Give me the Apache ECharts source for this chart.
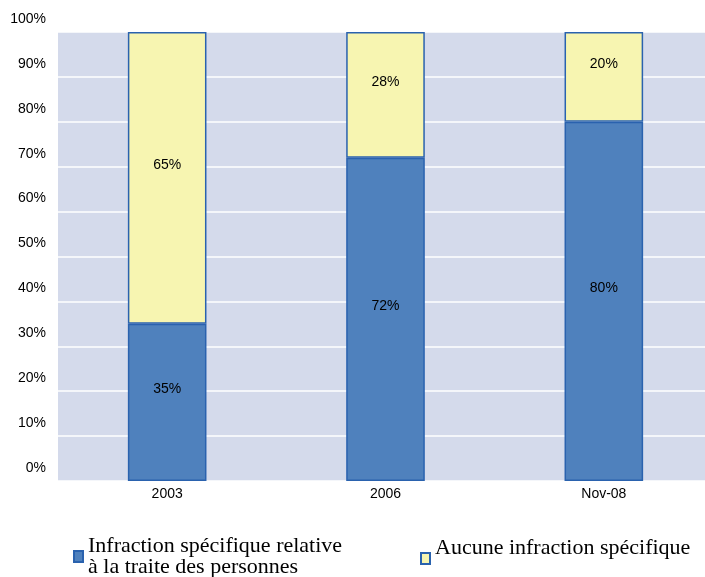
<!DOCTYPE html>
<html><head><meta charset="utf-8">
<script src="https://cdn.jsdelivr.net/npm/echarts@6/dist/echarts.min.js"></script>
<style>html,body{margin:0;padding:0;background:#fff}#c{width:705px;height:577px}</style>
</head><body><div id="c"></div>
<script>
const categories = ['2003', '2006', 'Nov-08'];
const specific = [35, 72, 80];
const none = [65, 28, 20];
const seriesNames = ['Infraction spécifique relative\nà la traite des personnes', 'Aucune infraction spécifique'];

const chart = echarts.init(document.getElementById('c'));
const lbl = {
  show: true, position: 'inside', offset: [0, -13],
  formatter: p => p.value + '%', color: '#000',
  fontFamily: 'Liberation Sans, Arial', fontSize: 14
};
const legText = { fontFamily: 'Liberation Serif, Times New Roman', fontSize: 22, color: '#000', lineHeight: 21 };
chart.setOption({
  animation: false,
  grid: { left: 58, top: 32, width: 655, bottom: 96, show: true, backgroundColor: '#D4DAEB', borderWidth: 0, outerBoundsMode: 'none', containLabel: false },
  legend: [
    { data: [seriesNames[0]], left: 73, top: 535, padding: 0, icon: 'rect', itemWidth: 9, itemHeight: 11, itemGap: 0,
      textStyle: legText },
    { data: [seriesNames[1]], left: 420, top: 537, padding: 0, icon: 'rect', itemWidth: 9, itemHeight: 11, itemGap: 0,
      formatter: n => n + '\n ', textStyle: legText }
  ],
  xAxis: {
    type: 'category', data: categories,
    axisLine: { show: false }, axisTick: { show: false },
    axisLabel: { color: '#000', fontFamily: 'Liberation Sans, Arial', fontSize: 14, margin: 6 }
  },
  yAxis: {
    type: 'value', min: 0, max: 100, interval: 10,
    axisLine: { show: false }, axisTick: { show: false },
    splitLine: { lineStyle: { color: '#fff', width: 1.5 } },
    axisLabel: { formatter: '{value}%', color: '#000', fontFamily: 'Liberation Sans, Arial', fontSize: 14, margin: 12, verticalAlign: 'bottom', lineHeight: 26 }
  },
  series: [
    { name: seriesNames[0], type: 'bar', stack: 'a', data: specific, barWidth: '36%',
      itemStyle: { color: '#4F81BD', borderColor: '#2A62AE', borderWidth: 1.5 }, label: lbl },
    { name: seriesNames[1], type: 'bar', stack: 'a', data: none, barWidth: '36%',
      itemStyle: { color: '#F7F5B1', borderColor: '#2A62AE', borderWidth: 1.5 }, label: lbl }
  ]
});
</script></body></html>
